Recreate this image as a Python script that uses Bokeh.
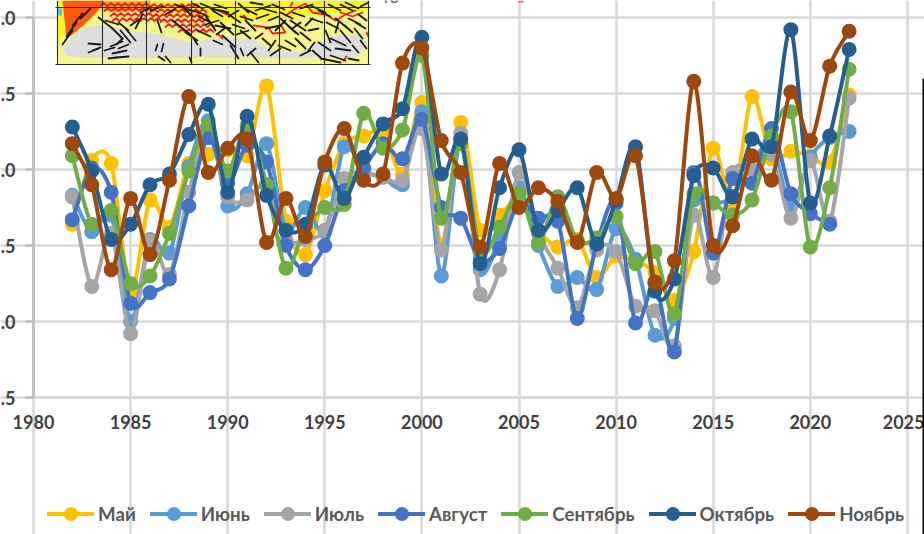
import numpy as np
from bokeh.plotting import figure
from bokeh.models import FixedTicker, Legend, LegendItem, BoxAnnotation
from bokeh.core.properties import value
from bokeh.embed import file_html
from bokeh.resources import INLINE

years = list(range(1982, 2023))
may = [-0.36,0.06,0.04,-0.81,-0.20,-0.38,0.04,0.10,0.13,0.09,0.55,-0.34,-0.56,-0.14,0.17,0.22,0.25,-0.03,0.44,-0.50,0.31,-0.40,-0.30,-0.20,-0.40,-0.51,-0.46,-0.71,-0.57,-0.60,-0.68,-0.86,-0.54,0.14,-0.22,0.48,0.07,0.12,0.09,0.05,0.49]
jun = [-0.17,-0.41,-0.30,-1.00,-0.46,-0.55,0.02,0.32,-0.24,-0.16,0.17,-0.40,-0.25,-0.41,0.15,-0.01,-0.05,-0.10,0.38,-0.70,0.20,-0.66,-0.45,-0.12,-0.50,-0.77,-0.71,-0.79,-0.39,-0.59,-1.09,-0.98,-0.20,-0.22,-0.18,0.04,0.17,-0.24,0.08,0.21,0.25]
jul = [-0.18,-0.77,-0.42,-1.08,-0.47,-0.69,-0.15,0.24,-0.18,-0.20,-0.10,-0.46,-0.46,-0.40,-0.06,-0.02,-0.05,-0.07,0.27,-0.53,0.24,-0.82,-0.66,-0.02,-0.42,-0.65,-0.91,-0.53,-0.54,-0.90,-0.93,-1.16,-0.30,-0.71,-0.02,0.00,0.10,-0.32,0.06,-0.34,0.47]
aug = [-0.33,0.01,-0.15,-0.88,-0.81,-0.72,-0.24,0.21,-0.09,0.16,0.05,-0.50,-0.66,-0.50,-0.14,0.01,0.17,0.07,0.33,-0.25,-0.32,-0.60,-0.52,-0.22,-0.32,-0.34,-0.98,-0.49,-0.22,-1.01,-0.75,-1.20,-0.02,-0.55,-0.06,-0.09,0.27,-0.16,-0.29,-0.36]
sep = [0.09,-0.36,-0.27,-0.75,-0.70,-0.42,-0.01,0.30,-0.01,0.29,-0.10,-0.65,-0.38,-0.25,-0.23,0.37,0.14,0.26,0.75,-0.32,0.17,-0.54,-0.38,-0.16,-0.48,-0.18,-0.47,-0.45,-0.31,-0.62,-0.54,-0.95,-0.16,-0.22,-0.30,-0.20,0.22,0.38,-0.51,-0.12,0.66]
oct_ = [0.28,-0.01,-0.46,-0.36,-0.10,-0.03,0.23,0.43,-0.15,0.35,-0.17,-0.40,-0.36,0.03,-0.19,0.08,0.30,0.40,0.87,-0.03,0.20,-0.62,-0.12,0.13,-0.40,-0.27,-0.12,-0.49,-0.20,0.15,-0.80,-0.72,-0.04,0.01,-0.18,0.20,0.15,0.92,-0.22,0.22,0.79]
nov = [0.17,-0.10,-0.66,-0.19,-0.56,-0.07,0.48,-0.02,0.14,0.20,-0.48,-0.19,-0.44,0.05,0.27,-0.07,-0.03,0.70,0.80,0.19,-0.02,-0.51,0.04,-0.25,-0.12,-0.21,-0.48,-0.02,-0.19,0.09,-0.74,-0.60,0.58,-0.50,-0.37,0.09,-0.07,0.51,0.19,0.68,0.91]

names = ["Май", "Июнь", "Июль", "Август", "Сентябрь", "Октябрь", "Ноябрь"]
series = [may, jun, jul, aug, sep, oct_, nov]
colors = ["#FFC000", "#5B9BD5", "#A5A5A5", "#4472C4", "#70AD47", "#255E91", "#9E480E"]
x_ticks = [1980, 1985, 1990, 1995, 2000, 2005, 2010, 2015, 2020, 2025]
y_ticks = [-1.5, -1.0, -0.5, 0.0, 0.5, 1.0]
y_labels = [".5", ".0", ".5", ".0", ".5", ".0"]

W, H = 924, 534
LEFT, BOTTOM = 33, 397
PX_YEAR, PX_UNIT = 19.42, 152.0
x_start = 1980 - LEFT / PX_YEAR
x_end = 1980 + (W - LEFT) / PX_YEAR
y_end = -1.5 + BOTTOM / PX_UNIT
y_start = -1.5 - (H - BOTTOM) / PX_UNIT


def fx(px):
    return 1980 + (np.asarray(px, float) - LEFT) / PX_YEAR


def fy(py):
    return -1.5 + (BOTTOM - np.asarray(py, float)) / PX_UNIT


def smooth(xs, ys, n=12, k=7.0):
    xs, ys = np.asarray(xs, float), np.asarray(ys, float)
    ox, oy = [], []
    for i in range(len(xs) - 1):
        i0, i3 = max(i - 1, 0), min(i + 2, len(xs) - 1)
        c1x = xs[i] + (xs[i + 1] - xs[i0]) / k
        c1y = ys[i] + (ys[i + 1] - ys[i0]) / k
        c2x = xs[i + 1] - (xs[i3] - xs[i]) / k
        c2y = ys[i + 1] - (ys[i3] - ys[i]) / k
        t = np.linspace(0, 1, n, endpoint=False)
        ox.extend((1-t)**3*xs[i] + 3*(1-t)**2*t*c1x + 3*(1-t)*t**2*c2x + t**3*xs[i+1])
        oy.extend((1-t)**3*ys[i] + 3*(1-t)**2*t*c1y + 3*(1-t)*t**2*c2y + t**3*ys[i+1])
    ox.append(xs[-1]); oy.append(ys[-1])
    return ox, oy


p = figure(width=W, height=H, output_backend="svg", toolbar_location=None,
           x_range=(x_start, x_end), y_range=(y_start, y_end),
           min_border_left=0, min_border_right=0, min_border_top=0,
           min_border_bottom=0, margin=(0, 0, 0, 0),
           outline_line_color=None, background_fill_color="white")

GRID = "#D9D9D9"
p.xaxis.ticker = FixedTicker(ticks=x_ticks)
p.yaxis.ticker = FixedTicker(ticks=y_ticks)
p.xaxis.bounds = (1980, 2025)
p.yaxis.bounds = (-1.5, 1.0)
p.xaxis.fixed_location = -1.5
p.yaxis.fixed_location = 1980
p.xgrid.ticker = FixedTicker(ticks=x_ticks)
p.ygrid.ticker = FixedTicker(ticks=y_ticks)
p.ygrid.bounds = (1980, 2025)
p.xgrid.bounds = (-1.5, 1.0)
for g in (p.xgrid, p.ygrid):
    g.grid_line_color = GRID
    g.grid_line_width = 2.6
p.yaxis.major_label_overrides = dict(zip(y_ticks, y_labels))
for a in (p.xaxis, p.yaxis):
    a.minor_tick_line_color = None
    a.major_label_text_font = "Lato"
    a.major_label_text_font_style = "bold"
    a.major_label_text_font_size = "18px"
    a.major_label_text_color = "#404040"
p.xaxis.axis_line_color = GRID
p.xaxis.axis_line_width = 2.6
p.xaxis.major_tick_line_color = None
p.xaxis.major_tick_out = 0
p.xaxis.major_label_standoff = 17
p.yaxis.axis_line_color = "#BFBFBF"
p.yaxis.axis_line_width = 3
p.yaxis.major_tick_line_color = "#BFBFBF"
p.yaxis.major_tick_line_width = 2.6
p.yaxis.major_tick_out = 8
p.yaxis.major_tick_in = 0
p.yaxis.major_label_standoff = 10

# ---- inset map picture at the top of the chart ----
MX0, MX1, MY0, MY1 = 57, 368, 0, 64
def poly(pts, color, alpha=1.0):
    a = np.array(pts, float)
    p.patch(fx(a[:, 0]), fy(a[:, 1]), fill_color=color, line_color=None, fill_alpha=alpha)

poly([(MX0, MY0), (MX1, MY0), (MX1, MY1), (MX0, MY1)], "#F6F58C")
poly([(66, 56), (62, 48), (76, 30), (100, 24), (130, 30), (160, 34), (190, 42), (225, 36), (255, 40), (270, 50), (300, 52), (330, 36), (362, 34), (366, 44), (358, 56), (300, 58), (200, 57), (120, 58)], "#DEDEDE")
poly([(MX0, MY0), (MX1, MY0), (MX1, 10), (300, 16), (220, 22), (180, 16), (150, 10), (100, 10), (92, 16), (70, 30), (MX0, 42)], "#FBF32A")
poly([(62, 0), (104, 0), (96, 12), (84, 24), (72, 34), (66, 38)], "#FF5A0A")
poly([(104, 0), (150, 0), (150, 8), (120, 12), (102, 10)], "#FFB000")
poly([(56.5, 8), (62, 8), (61, 16), (57, 14)], "#55C8E8")

red_x, red_y = [], []
for (x0, x1, yy) in [(100, 148, 4), (104, 150, 9), (110, 152, 14), (112, 160, 19),
                     (150, 196, 5), (150, 200, 10), (152, 204, 15), (160, 206, 20),
                     (165, 208, 25), (178, 210, 30)]:
    for xv in np.arange(x0, x1, 7):
        red_x.append(fx([xv, xv + 3.5, xv + 7]))
        red_y.append(fy([yy + 1.5, yy - 1.5, yy + 1.5]))
red_paths = [
    [(285, 15), (295, 8), (305, 3), (312, 12), (325, 14), (335, 20), (345, 14), (355, 10)],
    [(253, 25), (268, 27), (272, 33), (285, 32), (280, 24)],
    [(290, 6), (292, 2)], [(340, 12), (352, 16), (362, 12)], [(218, 10), (226, 14)],
    [(243, 15), (246, 18)], [(218, 34), (222, 38)], [(343, 60), (346, 56)], [(366, 32), (368, 36)],
]
for path in red_paths:
    a = np.array(path, float)
    red_x.append(fx(a[:, 0])); red_y.append(fy(a[:, 1]))
p.multi_line(red_x, red_y, line_color="#F02020", line_width=1.8, line_cap="round")

arrows = [
    (62,44,72,30),(66,36,76,22),(72,25,82,13),(80,18,90,8),(88,43,100,44),(92,50,100,47),(88,52,98,48),
    (104,50,114,47),(110,46,122,41),(108,58,116,57),(116,57,128,56),(112,53,126,50),(118,48,128,44),(116,44,122,38),
    (98,17,112,28),(112,28,122,38),(120,30,130,42),(125,28,135,40),(105,20,118,24),(118,22,128,30),(130,25,140,18),
    (135,28,142,14),(140,12,150,7),(157,20,161,32),(155,50,157,44),(161,51,163,43),(158,56,164,60),(165,56,170,62),
    (200,55,200,48),(193,38,197,44),(189,57,191,62),(150,10,162,6),(165,14,175,8),(172,20,190,34),(185,32,197,40),
    (197,30,210,36),(210,8,228,12),(205,15,215,30),(212,10,222,16),(220,22,233,34),(222,35,235,47),(230,45,238,58),
    (240,48,243,55),(247,55,255,48),(250,52,258,62),(262,38,270,45),(268,50,275,40),(270,55,280,48),(245,20,255,30),
    (255,10,270,5),(265,28,280,25),(280,18,295,32),(290,20,305,30),(255,38,262,33),(238,3,248,12),(225,12,240,22),
    (200,3,212,8),(175,4,190,10),(295,38,305,48),(300,32,310,40),(308,30,318,28),(312,50,320,57),(318,42,330,50),
    (330,38,345,45),(340,30,350,42),(352,45,358,52),(320,58,340,62),(330,55,345,60),(348,58,358,60),(335,48,350,50),
    (360,40,366,48),(354,28,362,38),(344,25,352,32),(335,18,345,26),(310,5,325,12),(328,4,340,10),(345,2,358,8),
    (360,6,368,2),(325,30,330,42),(335,32,338,22),(305,25,312,18),(285,40,295,46),(278,45,290,50),(275,30,285,20),
    (250,2,262,4),(215,25,230,28),(213,40,222,44),(240,30,250,38),(300,55,310,50),(308,50,314,42),
    (192,10,204,14),(198,16,210,22),(205,24,218,20),(214,4,226,8),(228,16,238,10),(232,24,244,28),(244,8,256,14),
    (256,18,268,14),(262,8,276,12),(272,4,284,9),(280,12,292,18),(292,12,304,16),(300,8,312,4),(310,18,322,22),
    (318,10,330,16),(326,22,338,28),(340,4,352,10),(348,18,360,24),(358,14,366,20),(355,22,365,28),(300,22,292,28),
    (240,16,252,20),(224,28,216,34),(268,20,278,16),(202,8,192,3),(182,6,192,16),(236,34,248,30),(288,26,298,34),
]
p.multi_line([fx([a[0], a[2]]) for a in arrows], [fy([a[1], a[3]]) for a in arrows],
             line_color="#1A1A1A", line_width=1.8, line_cap="round")
v_grid = [57, 102, 146, 191, 235, 279, 324, 368]
p.multi_line([fx([v, v]) for v in v_grid], [fy([MY0, MY1]) for v in v_grid], line_color="#2A2A2A", line_width=1.1)
p.multi_line([fx([55, 370]), fx([55, 370])], [fy([7, 7]), fy([MY1, MY1])], line_color="#2A2A2A", line_width=1.1)
p.text(fx([378]), fy([2]), text=["40"], text_color="#44546A", text_font_size="18px", text_baseline="bottom",
       text_font=value("Lato"))
p.quad(left=fx(518), right=fx(523), top=fy(0), bottom=fy(2), fill_color="#FF4F9A", line_color=None)

# ---- series ----
items = []
for name, vals, col in zip(names, series, colors):
    yrs = years[:len(vals)]
    sx, sy = smooth(yrs, vals)
    l = p.line(sx, sy, line_color=col, line_width=4, line_cap="round", line_join="round")
    m = p.scatter(yrs, vals, size=15, marker="circle", fill_color=col, line_color=col, line_width=0)
    items.append(LegendItem(label=name, renderers=[l, m]))

legend = Legend(items=items, orientation="horizontal", location=(47, 3),
                background_fill_alpha=0, border_line_color=None, padding=0, margin=0,
                glyph_width=47, glyph_height=35, label_standoff=4, spacing=14, label_height=18,
                label_text_font="Lato", label_text_font_style="bold", label_text_font_size="18.7px",
                label_text_color="#595959")
p.add_layout(legend)

# black edge of the screenshot on the right
p.add_layout(BoxAnnotation(left=fx(922), right=fx(924), top=fy(78), bottom=fy(534),
                           fill_color="black", fill_alpha=1, line_color=None))

open("out.html", "w").write(file_html(p, INLINE))
